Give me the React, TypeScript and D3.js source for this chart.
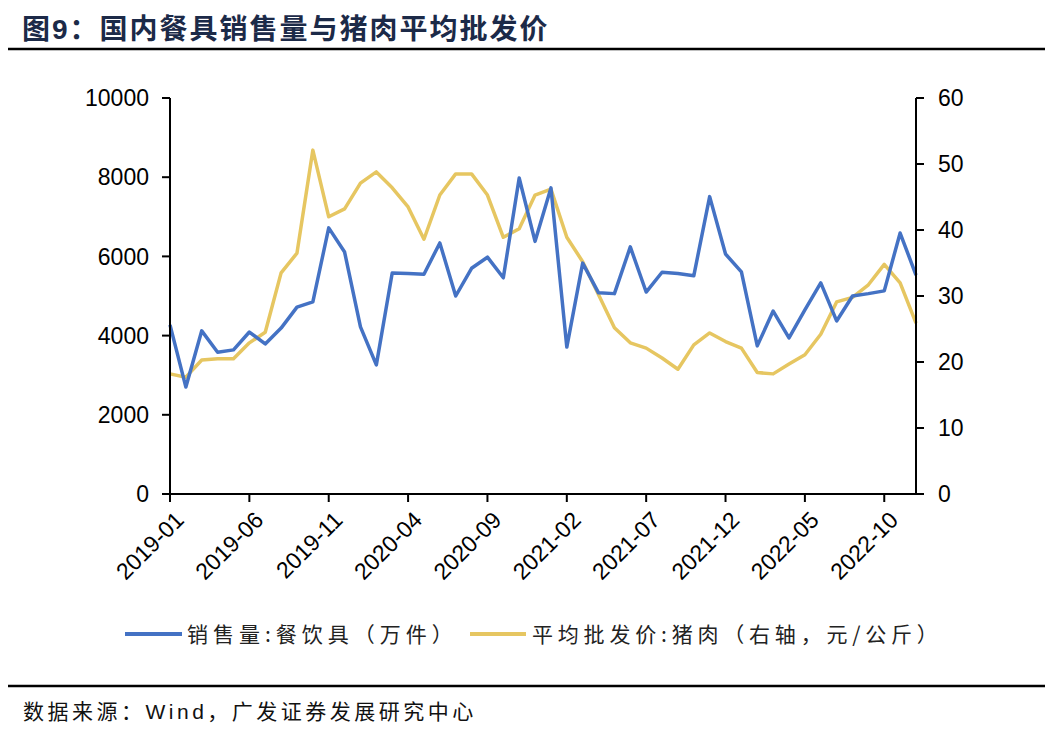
import * as d3 from "d3";

// 2019-01 .. 2022-12, monthly
const months: string[] = [];
for (let y = 2019; y <= 2022; y++) {
	for (let m = 1; m <= 12; m++) months.push(`${y}-${String(m).padStart(2, "0")}`);
}

const tickLabels = [
	"2019-01", "2019-06", "2019-11", "2020-04", "2020-09",
	"2021-02", "2021-07", "2021-12", "2022-05", "2022-10",
];

// 销售量:餐饮具（万件）
const salesValues = [
	4270, 2700, 4120, 3580, 3640, 4090, 3790, 4190, 4720, 4850, 6720, 6110,
	4220, 3260, 5580, 5570, 5550, 6340, 5000, 5700, 5980, 5460, 7980, 6380,
	7730, 3710, 5830, 5080, 5060, 6240, 5100, 5600, 5570, 5510, 7510, 6060,
	5610, 3740, 4620, 3940, 4650, 5330, 4370, 5000, 5060, 5130, 6590, 5530,
];

// 平均批发价:猪肉（右轴，元/公斤）
const porkValues = [
	18.2, 17.7, 20.3, 20.5, 20.5, 22.9, 24.5, 33.5, 36.5, 52.1, 42.0, 43.2,
	47.1, 48.8, 46.4, 43.5, 38.6, 45.3, 48.5, 48.5, 45.3, 38.9, 40.2, 45.3,
	46.2, 38.9, 35.2, 30.2, 25.2, 22.9, 22.1, 20.6, 18.9, 22.6, 24.4, 23.1,
	22.1, 18.4, 18.2, 19.7, 21.1, 24.2, 29.1, 29.8, 31.7, 34.8, 32.0, 25.9,
];

const leftTicks = [0, 2000, 4000, 6000, 8000, 10000];
const rightTicks = [0, 10, 20, 30, 40, 50, 60];

const W = 1053;
const H = 734;
const plot = { left: 170, right: 916, top: 98, bottom: 494 };
const BLUE = "#4472c4";
const GOLD = "#e6c661";
const latin = "'Liberation Sans', Arial, sans-serif";
const cjk = "'Noto Sans CJK SC', sans-serif";

export default function App() {
	const x = d3
		.scalePoint<string>()
		.domain(months)
		.range([plot.left, plot.right]);
	const yL = d3.scaleLinear().domain([0, 10000]).range([plot.bottom, plot.top]);
	const yR = d3.scaleLinear().domain([0, 60]).range([plot.bottom, plot.top]);

	const salesLine = d3
		.line<number>()
		.x((_, i) => x(months[i]) as number)
		.y((d) => yL(d));
	const porkLine = d3
		.line<number>()
		.x((_, i) => x(months[i]) as number)
		.y((d) => yR(d));

	return (
		<svg
			width={W}
			height={H}
			viewBox={`0 0 ${W} ${H}`}
			style={{ position: "absolute", left: 0, top: 0, background: "#fff" }}
		>
			{/* title */}
			<text
				x={22}
				y={39}
				fontSize={28}
				fontWeight="bold"
				letterSpacing={2}
				fill="#1c2a48"
				fontFamily={cjk}
			>
				图<tspan fontFamily={latin}>9</tspan>：国内餐具销售量与猪肉平均批发价
			</text>
			<line x1={8} x2={1045} y1={49} y2={49} stroke="#000" strokeWidth={2.5} />

			{/* series */}
			<path d={porkLine(porkValues) ?? ""} fill="none" stroke={GOLD} strokeWidth={3.5} strokeLinejoin="round" />
			<path d={salesLine(salesValues) ?? ""} fill="none" stroke={BLUE} strokeWidth={3.5} strokeLinejoin="round" />

			{/* left axis */}
			<line x1={plot.left} x2={plot.left} y1={plot.top} y2={plot.bottom} stroke="#000" strokeWidth={2} />
			{leftTicks.map((t) => (
				<g key={t}>
					<line x1={plot.left - 8} x2={plot.left} y1={yL(t)} y2={yL(t)} stroke="#000" strokeWidth={2} />
					<text
						x={plot.left - 21}
						y={yL(t)}
						dy="0.36em"
						textAnchor="end"
						fontSize={23}
						fontFamily={latin}
						fill="#000"
					>
						{t}
					</text>
				</g>
			))}

			{/* right axis */}
			<line x1={plot.right} x2={plot.right} y1={plot.top} y2={plot.bottom} stroke="#000" strokeWidth={2} />
			{rightTicks.map((t) => (
				<g key={t}>
					<line x1={plot.right} x2={plot.right + 8} y1={yR(t)} y2={yR(t)} stroke="#000" strokeWidth={2} />
					<text
						x={plot.right + 22}
						y={yR(t)}
						dy="0.36em"
						textAnchor="start"
						fontSize={23}
						fontFamily={latin}
						fill="#000"
					>
						{t}
					</text>
				</g>
			))}

			{/* x axis */}
			<line x1={plot.left} x2={plot.right} y1={plot.bottom} y2={plot.bottom} stroke="#000" strokeWidth={2} />
			{tickLabels.map((t) => {
				const px = x(t) as number;
				return (
					<g key={t}>
						<line x1={px} x2={px} y1={plot.bottom} y2={plot.bottom + 8} stroke="#000" strokeWidth={2} />
						<text
							transform={`translate(${px + 4},${plot.bottom + 16}) rotate(-45)`}
							textAnchor="end"
							dy="0.7em"
							fontSize={23}
							fontFamily={latin}
							fill="#000"
						>
							{t}
						</text>
					</g>
				);
			})}

			{/* legend */}
			<line x1={125} x2={182} y1={634} y2={634} stroke={BLUE} strokeWidth={4} />
			<text x={187} y={642} fontSize={21} letterSpacing={5} fontFamily={cjk} fill="#222">
				销售量:餐饮具（万件）
			</text>
			<line x1={470} x2={526} y1={634} y2={634} stroke={GOLD} strokeWidth={4} />
			<text x={532} y={642} fontSize={21} letterSpacing={4.8} fontFamily={cjk} fill="#222">
				平均批发价:猪肉（右轴，元/公斤）
			</text>

			{/* footer */}
			<line x1={8} x2={1045} y1={686} y2={686} stroke="#000" strokeWidth={2.5} />
			<text x={23} y={719} fontSize={21} letterSpacing={3.5} fontFamily={cjk} fill="#111">
				数据来源：<tspan fontFamily={latin}>Wind</tspan>，广发证券发展研究中心
			</text>
		</svg>
	);
}
